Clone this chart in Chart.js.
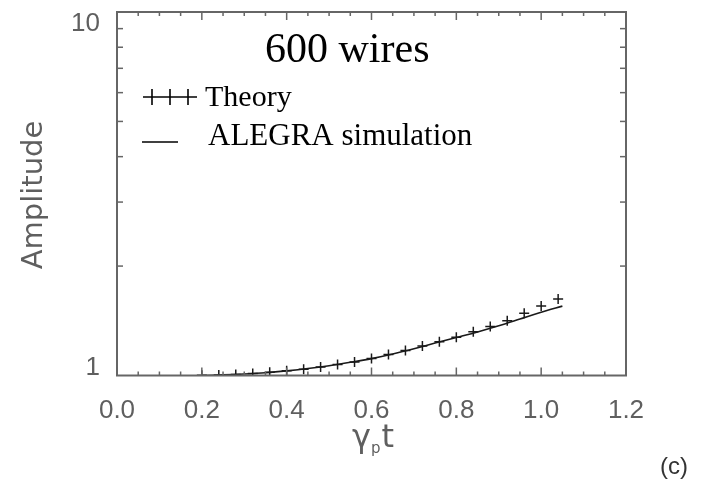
<!DOCTYPE html>
<html>
<head>
<meta charset="utf-8">
<title>600 wires</title>
<script src="https://cdn.jsdelivr.net/npm/chart.js@4.4.1/dist/chart.umd.min.js"></script>
<style>
  html, body { margin: 0; padding: 0; background: #fff; }
  #wrap { width: 708px; height: 493px; position: relative; }
</style>
</head>
<body>
<div id="wrap"><canvas id="amp"></canvas></div>
<script>
// growth time (gamma_p * t) and amplitude for the theory curve
var theoryT   = [0.20, 0.24, 0.28, 0.32, 0.36, 0.40, 0.44, 0.48, 0.52, 0.56, 0.60,
                 0.64, 0.68, 0.72, 0.76, 0.80, 0.84, 0.88, 0.92, 0.96, 1.00, 1.04];
var theoryAmp = [1.001, 1.003, 1.007, 1.012, 1.020, 1.030, 1.041, 1.056, 1.072, 1.090, 1.114,
                 1.143, 1.172, 1.205, 1.239, 1.274, 1.319, 1.363, 1.415, 1.483, 1.554, 1.624];

// ALEGRA simulation trace
var simT   = [0.20, 0.25, 0.30, 0.35, 0.40, 0.45, 0.50, 0.55, 0.60, 0.65,
              0.70, 0.75, 0.80, 0.85, 0.90, 0.95, 1.00, 1.05];
var simAmp = [1.000, 1.004, 1.010, 1.018, 1.030, 1.045, 1.064, 1.087, 1.113, 1.146,
              1.185, 1.228, 1.272, 1.318, 1.370, 1.430, 1.493, 1.552];

var xTickValues = [0, 0.2, 0.4, 0.6, 0.8, 1.0, 1.2];
var yTickValues = [1, 10];
var yTickLabels = ['1', '10'];

var GREY = '#5f5f5f';
var TICK_FONT = '26px "Liberation Sans", Arial, sans-serif';
var SERIF = '"Liberation Serif", "Times New Roman", serif';

function toPoints(xs, ys) {
  return xs.map(function (v, i) { return { x: v, y: ys[i] }; });
}

function seg(ctx, x1, y1, x2, y2) {
  ctx.beginPath();
  ctx.moveTo(x1, y1);
  ctx.lineTo(x2, y2);
  ctx.stroke();
}

// IDL-style box: frame, inward ticks on all four sides, labels, legend and title
var boxPlugin = {
  id: 'box',
  afterDraw: function (chart) {
    var ctx = chart.ctx;
    var a = chart.chartArea;
    var xs = chart.scales.x;
    var ys = chart.scales.y;
    ctx.save();

    ctx.strokeStyle = '#666';
    ctx.lineWidth = 2;
    ctx.strokeRect(a.left, a.top, a.right - a.left, a.bottom - a.top);

    ctx.lineWidth = 1.5;
    for (var i = 0; i <= 24; i++) {
      var px = xs.getPixelForValue(i * 0.05);
      var len = (i % 4 === 0) ? 8 : 4;
      seg(ctx, px, a.bottom, px, a.bottom - len);
      seg(ctx, px, a.top, px, a.top + len);
    }
    for (var d = 2; d <= 9; d++) {
      var py = ys.getPixelForValue(d);
      seg(ctx, a.left, py, a.left + 6, py);
      seg(ctx, a.right, py, a.right - 6, py);
    }

    // y labels, kept inside the frame height
    ctx.fillStyle = GREY;
    ctx.font = TICK_FONT;
    ctx.textAlign = 'right';
    ctx.textBaseline = 'middle';
    yTickValues.forEach(function (v, k) {
      var ly = Math.min(Math.max(ys.getPixelForValue(v), a.top + 12), a.bottom - 8);
      ctx.fillText(yTickLabels[k], a.left - 17, ly);
    });

    // y title
    ctx.save();
    ctx.translate(34, 195);
    ctx.rotate(-Math.PI / 2);
    ctx.textAlign = 'center';
    ctx.textBaseline = 'middle';
    ctx.font = '29px "DejaVu Sans", sans-serif';
    ctx.fillText('Amplitude', 0, 0);
    ctx.restore();

    // x title: gamma_p t
    ctx.textAlign = 'left';
    ctx.textBaseline = 'alphabetic';
    ctx.font = '32px "DejaVu Sans", sans-serif';
    ctx.fillText('\u03b3', 352, 447);
    var gw = ctx.measureText('\u03b3').width;
    ctx.font = '15px "DejaVu Sans", sans-serif';
    ctx.fillText('p', 352 + gw, 453);
    var pw = ctx.measureText('p').width;
    ctx.font = '32px "DejaVu Sans", sans-serif';
    ctx.fillText('t', 352 + gw + pw + 1, 447);

    // panel tag
    ctx.fillStyle = '#333';
    ctx.font = '24px "Liberation Sans", Arial, sans-serif';
    ctx.fillText('(c)', 660, 474);

    // title
    ctx.fillStyle = '#000';
    ctx.font = '42px ' + SERIF;
    ctx.fillText('600 wires', 265, 62);

    // legend
    ctx.font = '30px ' + SERIF;
    ctx.fillText('Theory', 205, 106);
    ctx.font = '31px ' + SERIF;
    ctx.fillText('ALEGRA simulation', 208, 145);
    ctx.strokeStyle = '#000';
    ctx.lineWidth = 1.6;
    seg(ctx, 143, 97, 197, 97);
    [152, 170, 188].forEach(function (mx) { seg(ctx, mx, 89, mx, 105); });
    seg(ctx, 142, 142, 178, 142);

    ctx.restore();
  }
};

new Chart(document.getElementById('amp'), {
  data: {
    datasets: [{
      type: 'line',
      label: 'ALEGRA simulation',
      data: toPoints(simT, simAmp),
      borderColor: '#1a1a1a',
      borderWidth: 1.6,
      pointRadius: 0,
      tension: 0.3,
      fill: false
    }, {
      type: 'scatter',
      label: 'Theory',
      data: toPoints(theoryT, theoryAmp),
      pointStyle: 'cross',
      pointRadius: 5,
      borderColor: '#1a1a1a',
      borderWidth: 1.5,
      showLine: false
    }]
  },
  options: {
    responsive: true,
    maintainAspectRatio: false,
    animation: false,
    layout: { padding: { top: 12, right: 82, left: 0, bottom: 0 } },
    plugins: { legend: { display: false }, tooltip: { enabled: false } },
    scales: {
      x: {
        type: 'linear',
        min: 0,
        max: 1.2,
        afterBuildTicks: function (scale) {
          scale.ticks = xTickValues.map(function (v) { return { value: v }; });
        },
        afterFit: function (scale) { scale.height = 117.5; },
        grid: { display: false, drawTicks: false },
        border: { display: false },
        ticks: {
          color: GREY,
          padding: 20,
          maxRotation: 0,
          font: { family: '"Liberation Sans", Arial, sans-serif', size: 26 },
          callback: function (v) { return Number(v).toFixed(1); }
        }
      },
      y: {
        type: 'logarithmic',
        min: 1,
        max: 10,
        afterFit: function (scale) { scale.width = 117; },
        grid: { display: false, drawTicks: false },
        border: { display: false },
        ticks: { display: false }
      }
    }
  },
  plugins: [boxPlugin]
});
</script>
</body>
</html>
